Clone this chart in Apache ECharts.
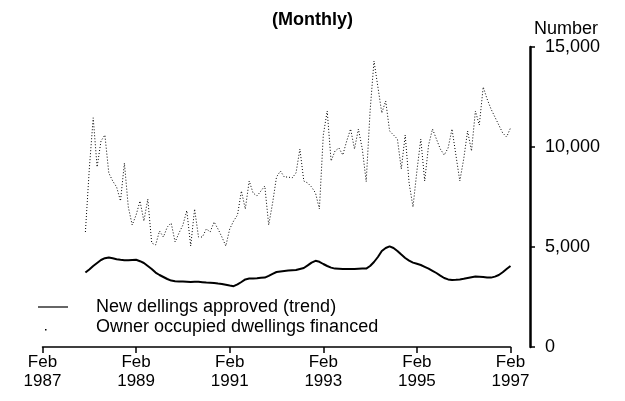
<!DOCTYPE html>
<html>
<head>
<meta charset="utf-8">
<title>(Monthly)</title>
<script src="https://cdn.jsdelivr.net/npm/echarts@6/dist/echarts.min.js"></script>
<style>
  html, body { margin: 0; padding: 0; background: #fff; }
  #chart { width: 625px; height: 401px; }
</style>
</head>
<body>
<div id="chart"></div>
<script>
// x axis: every month from Feb 1987 to Feb 1997
const monthNames = ['Jan', 'Feb', 'Mar', 'Apr', 'May', 'Jun', 'Jul', 'Aug', 'Sep', 'Oct', 'Nov', 'Dec']
const months = []
for (let y = 1987; y <= 1997; y++) {
  for (let m = 0; m < 12; m++) {
    if (y === 1987 && m < 1) continue
    if (y === 1997 && m > 1) continue
    months.push(monthNames[m] + ' ' + y)
  }
}
const firstMonth = 'Jan 1988'   // both series start here
const yTicks = [0, 5000, 10000, 15000]

// New dwellings approved (trend), Jan 1988 - Feb 1997
const approvedTrend = [
  3720, 3880, 4050, 4200, 4350, 4440, 4480, 4440, 4390, 4360, 4340, 4340,
  4350, 4360, 4290, 4200, 4050, 3900, 3720, 3600, 3500, 3400, 3320, 3290,
  3280, 3270, 3260, 3250, 3260, 3260, 3240, 3220, 3210, 3200, 3170, 3150,
  3110, 3070, 3040, 3130, 3250, 3380, 3420, 3430, 3440, 3460, 3470, 3560,
  3660, 3750, 3780, 3800, 3820, 3840, 3850, 3900, 3950, 4080, 4220, 4310,
  4260, 4150, 4050, 3970, 3920, 3910, 3900, 3900, 3900, 3900, 3910, 3920,
  3920, 4050, 4250, 4500, 4800, 4950, 5030, 4950, 4800, 4620, 4450, 4320,
  4220, 4160, 4100, 4010, 3920, 3810, 3700, 3570, 3450, 3380, 3350, 3360,
  3380, 3410, 3450, 3490, 3520, 3510, 3500, 3480, 3470, 3520, 3600, 3740,
  3900, 4050
]

// Owner occupied dwellings financed, Jan 1988 - Feb 1997
const ownerFinanced = [
  5750, 8900, 11460, 9000, 10300, 10600, 8700, 8300, 8000, 7300, 9200, 7000,
  6100, 6600, 7300, 6300, 7400, 5200, 5100, 5800, 5500, 6000, 6200, 5250,
  5700, 6100, 6820, 5050, 6900, 5500, 5500, 5900, 5760, 6250, 5900, 5500,
  5050, 5900, 6300, 6600, 7800, 6900, 8300, 7700, 7550, 7800, 8050, 6100,
  7200, 8500, 8800, 8500, 8500, 8450, 8700, 9900, 8300, 8200, 8000, 7700,
  6900, 10600, 11800, 9300, 9800, 9950, 9600, 10300, 10900, 9900, 10900, 9900,
  8270, 11800, 14300, 13000, 11700, 12300, 10800, 10600, 10400, 8900, 10600, 8200,
  7000, 8800, 10400, 8300, 10100, 10900, 10400, 9900, 9600, 9950, 10900, 9600,
  8300, 9400, 10800, 9800, 11800, 11100, 13000, 12400, 11900, 11500, 11100, 10700,
  10500, 10950
]

const font = "'Liberation Sans', Arial, sans-serif"
const pad = Array(months.indexOf(firstMonth)).fill(null)

const chart = echarts.init(document.getElementById('chart'))
const option = {
  animation: false,
  backgroundColor: '#fff',
  textStyle: { fontFamily: font, color: '#000' },
  title: {
    text: '(Monthly)',
    left: 'center',
    top: 11,
    padding: 0,
    textStyle: { fontFamily: font, fontSize: 18, fontWeight: 'bold', color: '#000' }
  },
  legend: {
    orient: 'vertical',
    left: 38,
    top: 298,
    padding: 0,
    itemWidth: 53,
    itemHeight: 14,
    itemGap: 2,
    textStyle: { fontFamily: font, fontSize: 18, lineHeight: 18, color: '#000' },
    data: [
      { name: 'New dellings approved (trend)', icon: 'path://M0 0M53 14M0 6.4h30v1.2h-30z' },
      { name: 'Owner occupied dwellings financed', icon: 'path://M0 0M53 14M7 9h1.5v1.5h-1.5z' }
    ]
  },
  grid: {
    left: 42.5,
    right: 114.5,
    top: 47,
    bottom: 54
  },
  xAxis: {
    type: 'category',
    data: months,
    boundaryGap: false,
    axisLine: { lineStyle: { color: '#000', width: 1.5 } },
    axisTick: {
      length: 6,
      interval: (i) => i % 24 === 0,
      lineStyle: { color: '#000', width: 1.5 }
    },
    axisLabel: {
      interval: (i) => i % 24 === 0,
      margin: 6,
      fontFamily: font,
      fontSize: 17,
      lineHeight: 19,
      color: '#000',
      formatter: (v) => v.replace(' ', '\n')
    },
    splitLine: { show: false }
  },
  yAxis: {
    type: 'value',
    position: 'right',
    offset: 19.5,
    min: yTicks[0],
    max: yTicks[yTicks.length - 1],
    interval: 5000,
    name: 'Number',
    nameLocation: 'end',
    nameGap: 8,
    nameTextStyle: { fontFamily: font, fontSize: 18, color: '#000', align: 'left', padding: [0, 0, 0, 4] },
    axisLine: { show: true, lineStyle: { color: '#000', width: 2.5 } },
    axisTick: { show: true, length: 5, lineStyle: { color: '#000', width: 1.5 } },
    axisLabel: {
      margin: 15,
      fontFamily: font,
      fontSize: 18,
      color: '#000',
      formatter: (v) => v.toLocaleString('en-US')
    },
    splitLine: { show: false }
  },
  series: [
    {
      name: 'New dellings approved (trend)',
      type: 'line',
      data: pad.concat(approvedTrend),
      symbol: 'none',
      color: '#000',
      lineStyle: { color: '#000', width: 2 }
    },
    {
      name: 'Owner occupied dwellings financed',
      type: 'line',
      data: pad.concat(ownerFinanced),
      symbol: 'none',
      color: '#000',
      lineStyle: { color: '#000', width: 1, type: [1, 2] }
    }
  ]
}
chart.setOption(option)
</script>
</body>
</html>
